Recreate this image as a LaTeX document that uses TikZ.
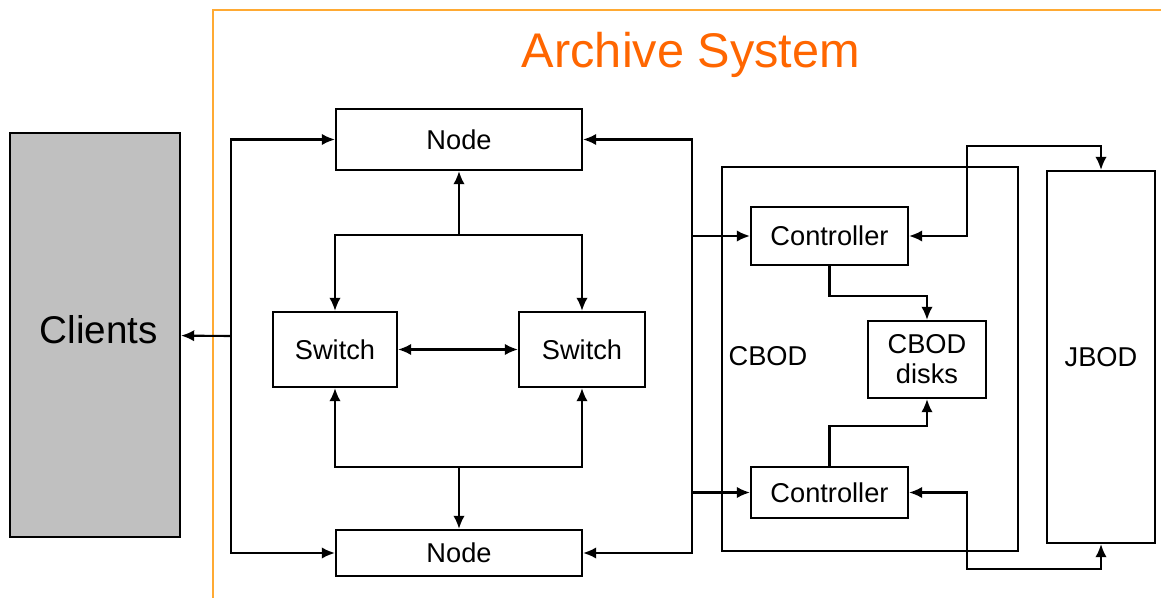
\documentclass[tikz,border=0pt]{standalone}
\usepackage{fontspec}
\setmainfont{Liberation Sans}
\usetikzlibrary{arrows.meta}
\definecolor{frameorange}{RGB}{255,170,51}
\definecolor{titleorange}{RGB}{255,102,0}
\definecolor{clientgray}{RGB}{192,192,192}

\begin{document}
\begin{tikzpicture}[x=0.02cm,y=-0.02cm,
    box/.style={draw, line width=1.2pt, inner sep=0pt, align=center, font=\fontsize{15.5}{17}\selectfont},
    link/.style={line width=1.2pt, -{Latex[length=7.5pt,width=6.5pt]}},
    both/.style={line width=1.2pt, {Latex[length=7.5pt,width=6.5pt]}-{Latex[length=7.5pt,width=6.5pt]}}]
    \useasboundingbox (0,0) rectangle (1161,598);
    \fill[white] (0,0) rectangle (1161,598);

    % archive system frame
    \draw[frameorange, line width=1.2pt] (1161,10) -- (213,10) -- (213,598);
    \node[text=titleorange, font=\fontsize{27.7}{32}\selectfont] (title) at (691,55) {Archive System};

    \node[box, fill=clientgray, minimum width=3.4cm, minimum height=8.08cm] (clients) at (95,335) {};
    \node[font=\fontsize{22}{26}\selectfont] (clientslbl) at (99,330) {Clients};

    \node[box, minimum width=4.92cm, minimum height=1.22cm] (nodeT) at (459,139.5) {Node};
    \node[box, minimum width=4.92cm, minimum height=0.92cm] (nodeB) at (459,553) {Node};
    \node[box, minimum width=2.48cm, minimum height=1.5cm] (swL) at (335,349.5) {Switch};
    \node[box, minimum width=2.52cm, minimum height=1.5cm] (swR) at (582,349.5) {Switch};

    \node[box, minimum width=5.92cm, minimum height=7.68cm] (cbod) at (870,359) {};
    \node[font=\fontsize{15.5}{17}\selectfont] (cbodlbl) at (768,356) {CBOD};
    \node[box, minimum width=3.14cm, minimum height=1.16cm] (ctlT) at (829.5,236) {Controller};
    \node[box, minimum width=3.14cm, minimum height=1.02cm] (ctlB) at (829.5,492.5) {Controller};
    \node[box, minimum width=2.36cm, minimum height=1.54cm] (disks) at (927,359.5) {CBOD\\disks};
    \node[box, minimum width=2.16cm, minimum height=7.44cm] (jbod) at (1101,357) {JBOD};

    \coordinate (lb) at (231,336);
    \coordinate (rb) at (692,346);
    \coordinate (jt) at (459,235);
    \coordinate (jb) at (459,467);
    \coordinate (kT) at (967,146);
    \coordinate (kB) at (967,569);

    % left bus
    \draw[link] (lb) -- (clients);
    \draw[link] (lb) |- (nodeT);
    \draw[link] (lb) |- (nodeB);

    % switches
    \draw[link] (jt) -- (nodeT);
    \draw[link] (jt) -| (swL);
    \draw[link] (jt) -| (swR);
    \draw[link] (jb) -- (nodeB);
    \draw[link] (jb) -| (swL);
    \draw[link] (jb) -| (swR);
    \draw[both] (swL) -- (swR);

    % right bus
    \draw[link] (rb) |- (nodeT);
    \draw[link] (rb) |- (nodeB);
    \draw[link] (rb) |- (ctlT);
    \draw[link] (rb) |- (ctlB);

    % storage
    \draw[link] (ctlT.south) -- ++(0,30) -| (disks);
    \draw[link] (ctlB.north) -- ++(0,-40) -| (disks);
    \draw[both] (ctlT) -| (kT) -| (jbod);
    \draw[both] (ctlB) -| (kB) -| (jbod);
\end{tikzpicture}
\end{document}
